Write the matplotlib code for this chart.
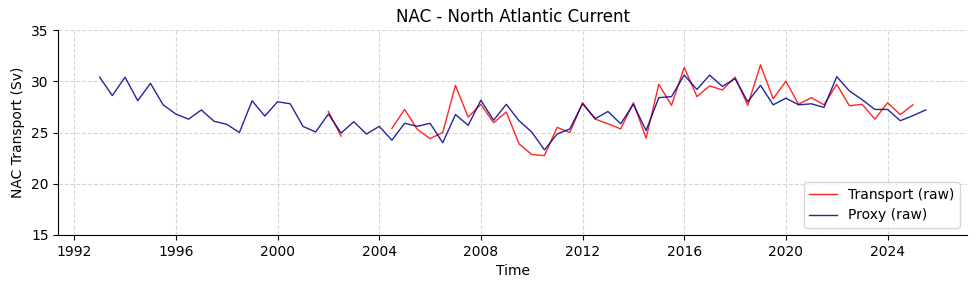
import numpy as np
import matplotlib
matplotlib.use("Agg")
import matplotlib.pyplot as plt

# Semi-annual time axis (decimal years)
proxy_start = 1993.0
proxy_values = [
    30.4, 28.6, 30.4, 28.1, 29.8, 27.7, 26.8, 26.3, 27.2, 26.1,
    25.8, 25.0, 28.1, 26.6, 28.0, 27.8, 25.6, 25.05, 26.8, 24.95,
    26.05, 24.85, 25.6, 24.25, 25.9, 25.6, 25.9, 24.0, 26.75, 25.7,
    28.15, 26.2, 27.75, 26.15, 25.05, 23.3, 24.85, 25.35, 27.8, 26.35,
    27.05, 25.85, 27.75, 25.2, 28.4, 28.5, 30.6, 29.2, 30.6, 29.5,
    30.25, 28.0, 29.6, 27.7, 28.35, 27.7, 27.8, 27.45, 30.45, 29.05,
    28.2, 27.25, 27.25, 26.15, 26.65, 27.2,
]

transport_start = 2002.0
transport_values = [
    27.05, 24.65, np.nan, np.nan, np.nan, 25.4, 27.25, 25.3, 24.4, 25.0,
    29.6, 26.5, 27.75, 25.95, 27.0, 23.9, 22.85, 22.75, 25.5, 25.0,
    27.9, 26.3, 25.85, 25.35, 27.9, 24.45, 29.7, 27.65, 31.35, 28.5,
    29.55, 29.15, 30.4, 27.65, 31.6, 28.3, 30.0, 27.75, 28.4, 27.7,
    29.7, 27.6, 27.75, 26.3, 27.9, 26.75, 27.7,
]

proxy_t = proxy_start + 0.5 * np.arange(len(proxy_values))
transport_t = transport_start + 0.5 * np.arange(len(transport_values))

xticks = [1992, 1996, 2000, 2004, 2008, 2012, 2016, 2020, 2024]
yticks = [15, 20, 25, 30, 35]

fig = plt.figure(figsize=(9.77, 2.89), dpi=100)
ax = fig.add_axes([58.3 / 977, 1 - 235 / 289, (967 - 58.3) / 977, (235 - 30) / 289])

ax.plot(transport_t, transport_values, color="red", alpha=0.85, lw=1.0, label="Transport (raw)")
ax.plot(proxy_t, proxy_values, color="darkblue", alpha=0.85, lw=1.0, label="Proxy (raw)")

ax.set_ylim(15, 35)
ax.set_yticks(yticks)
ax.set_xticks(xticks)
ax.set_xticklabels([str(x) for x in xticks])
ax.grid(True, linestyle="--", color="#cccccc", alpha=0.8, lw=0.8)
ax.spines["top"].set_visible(False)
ax.spines["right"].set_visible(False)
ax.set_title("NAC - North Atlantic Current", fontsize=12)
ax.set_xlabel("Time", fontsize=10)
ax.set_ylabel("NAC Transport (Sv)", fontsize=10)
ax.legend(loc="lower right", fontsize=10)

fig.savefig("out.png", dpi=100)
